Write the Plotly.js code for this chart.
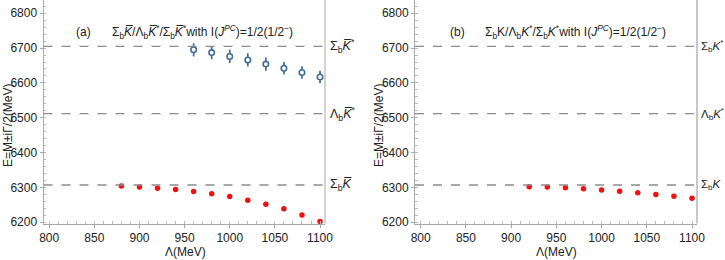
<!DOCTYPE html>
<html>
<head>
<meta charset="utf-8">
<script src="https://cdn.plot.ly/plotly-3.0.1.min.js"></script>
<style>html,body{margin:0;padding:0;background:#fff;}#chart{width:725px;height:260px;}</style>
</head>
<body>
<div id="chart"></div>
<script>
// ---- data ----
const lambdaA_red = [880, 900, 920, 940, 960, 980, 1000, 1020, 1040, 1060, 1080, 1100];
const energyA_red = [6304, 6301, 6298, 6294, 6288, 6282, 6274, 6263, 6252, 6239, 6221, 6202];
const lambdaA_blue = [960, 980, 1000, 1020, 1040, 1060, 1080, 1100];
const energyA_blue = [6695, 6687, 6676, 6666, 6654, 6642, 6630, 6617];
const widthA_blue = [19, 19, 19, 19, 19, 18, 18, 18];
const lambdaB_red = [920, 940, 960, 980, 1000, 1020, 1040, 1060, 1080, 1100];
const energyB_red = [6302, 6301, 6299, 6296, 6293, 6289, 6285, 6280, 6275, 6269];
const thresholdValues = [6705, 6512, 6307];
const thresholdLabelsA = ['Σ<sub>b</sub><i>K\u0305</i><sup>*</sup>', 'Λ<sub>b</sub><i>K\u0305</i><sup>*</sup>', 'Σ<sub>b</sub><i>K\u0305</i>'];
const thresholdLabelsB = ['Σ<sub>b</sub><i>K</i><sup>*</sup>', 'Λ<sub>b</sub><i>K</i><sup>*</sup>', 'Σ<sub>b</sub><i>K</i>'];
const titleA = 'Σ<sub>b</sub><i>K\u0305</i>/Λ<sub>b</sub><i>K\u0305</i><sup>*</sup>/Σ<sub>b</sub><i>K\u0305</i><sup>*</sup>with I(<i>J</i><sup><i>PC</i></sup>)=1/2(1/2<sup>−</sup>)';
const titleB = 'Σ<sub>b</sub>K/Λ<sub>b</sub><i>K</i><sup>*</sup>/Σ<sub>b</sub><i>K</i><sup>*</sup>with I(<i>J</i><sup><i>PC</i></sup>)=1/2(1/2<sup>−</sup>)';
const xTickVals = [800, 850, 900, 950, 1000, 1050, 1100];
const yTickVals = [6200, 6300, 6400, 6500, 6600, 6700, 6800];

const RED = '#f01010';
const BLUE = '#3f6d99';
const FONT = 'Liberation Sans, Arial, sans-serif';
const FS = 12;

const traces = [
  {x: lambdaA_red, y: energyA_red, xaxis: 'x', yaxis: 'y', type: 'scatter', mode: 'markers',
   cliponaxis: false, marker: {color: RED, size: 5.5}},
  {x: lambdaA_blue, y: energyA_blue, xaxis: 'x', yaxis: 'y', type: 'scatter', mode: 'markers',
   cliponaxis: false, marker: {color: '#ffffff', size: 5.5, line: {color: BLUE, width: 1.6}},
   error_y: {type: 'data', array: widthA_blue, visible: true, color: BLUE, thickness: 1.7, width: 0}},
  {x: lambdaB_red, y: energyB_red, xaxis: 'x2', yaxis: 'y2', type: 'scatter', mode: 'markers',
   cliponaxis: false, marker: {color: RED, size: 5.5}}
];

function xax(domain, anchor) {
  return {domain: domain, anchor: anchor, range: [793.7, 1105.5], tickvals: xTickVals,
    showline: true, linecolor: '#a8a8a8', linewidth: 1, zeroline: false, showgrid: false,
    ticks: 'outside', ticklen: 3, tickcolor: '#a8a8a8',
    minor: {dtick: 10, ticks: 'inside', ticklen: 2.5, tickcolor: '#b8b8b8'},
    tickfont: {family: FONT, size: FS, color: '#222'}, automargin: false};
}
function yax(domain, anchor) {
  return {domain: domain, anchor: anchor, range: [6196.5, 6838], tickvals: yTickVals,
    showline: true, linecolor: '#a8a8a8', linewidth: 1, zeroline: false, showgrid: false,
    ticks: 'outside', ticklen: 3, tickcolor: '#a8a8a8',
    minor: {dtick: 20, ticks: 'inside', ticklen: 2.5, tickcolor: '#b8b8b8'},
    tickfont: {family: FONT, size: FS, color: '#222'}, automargin: false};
}

const shapes = [];
const annotations = [];
[['x', 'y', thresholdLabelsA, 1.012, 12.5], ['x2', 'y2', thresholdLabelsB, 1.008, 11.5]].forEach(([xa, ya, labels, xpos, fs]) => {
  thresholdValues.forEach((v, i) => {
    shapes.push({type: 'line', xref: xa + ' domain', yref: ya, x0: 0, x1: 1, y0: v, y1: v,
      line: {color: '#8c8c8c', width: 1.3, dash: 'dash'}});
    annotations.push({xref: xa + ' domain', yref: ya, x: xpos, y: v, xanchor: 'left', yanchor: 'middle',
      text: labels[i], showarrow: false, font: {family: FONT, size: fs, color: '#222'}});
  });
});
// right frame lines
shapes.push({type: 'line', xref: 'x domain', yref: 'y domain', x0: 1, x1: 1, y0: 0, y1: 1,
  line: {color: '#a8a8a8', width: 1}});
shapes.push({type: 'line', xref: 'x2 domain', yref: 'y2 domain', x0: 1, x1: 1, y0: 0, y1: 1,
  line: {color: '#c8c8c8', width: 2}});

annotations.push(
  {xref: 'paper', yref: 'paper', x: 83/725, y: 1 - 32/260, text: '(a)', showarrow: false,
   xanchor: 'center', yanchor: 'middle', font: {family: FONT, size: FS, color: '#222'}},
  {xref: 'paper', yref: 'paper', x: 110/725, y: 1 - 32/260, text: titleA, showarrow: false,
   xanchor: 'left', yanchor: 'middle', font: {family: FONT, size: FS, color: '#222'}},
  {xref: 'paper', yref: 'paper', x: 457/725, y: 1 - 32/260, text: '(b)', showarrow: false,
   xanchor: 'center', yanchor: 'middle', font: {family: FONT, size: FS, color: '#222'}},
  {xref: 'paper', yref: 'paper', x: 483/725, y: 1 - 32/260, text: titleB, showarrow: false,
   xanchor: 'left', yanchor: 'middle', font: {family: FONT, size: FS, color: '#222'}},
  {xref: 'paper', yref: 'paper', x: 8/725, y: 1 - 125/260, text: 'E=M±iΓ/2(MeV)', textangle: -90,
   showarrow: false, xanchor: 'center', yanchor: 'middle', font: {family: FONT, size: FS, color: '#222'}},
  {xref: 'paper', yref: 'paper', x: 379/725, y: 1 - 125/260, text: 'E=M±iΓ/2(MeV)', textangle: -90,
   showarrow: false, xanchor: 'center', yanchor: 'middle', font: {family: FONT, size: FS, color: '#222'}},
  {xref: 'paper', yref: 'paper', x: 185/725, y: 1 - 252/260, text: 'Λ(MeV)', showarrow: false,
   xanchor: 'center', yanchor: 'middle', font: {family: FONT, size: FS, color: '#222'}},
  {xref: 'paper', yref: 'paper', x: 556/725, y: 1 - 252/260, text: 'Λ(MeV)', showarrow: false,
   xanchor: 'center', yanchor: 'middle', font: {family: FONT, size: FS, color: '#222'}}
);

const layout = {
  width: 725, height: 260,
  margin: {l: 0, r: 0, t: 0, b: 0},
  paper_bgcolor: '#ffffff', plot_bgcolor: '#ffffff',
  showlegend: false,
  xaxis: xax([43.5/725, 325/725], 'y'),
  yaxis: yax([1 - 223.5/260, 1], 'x'),
  xaxis2: xax([415/725, 697/725], 'y2'),
  yaxis2: yax([1 - 223.5/260, 1], 'x2'),
  shapes: shapes,
  annotations: annotations,
  font: {family: FONT}
};

Plotly.newPlot('chart', traces, layout, {staticPlot: true, displayModeBar: false});
</script>
</body>
</html>
